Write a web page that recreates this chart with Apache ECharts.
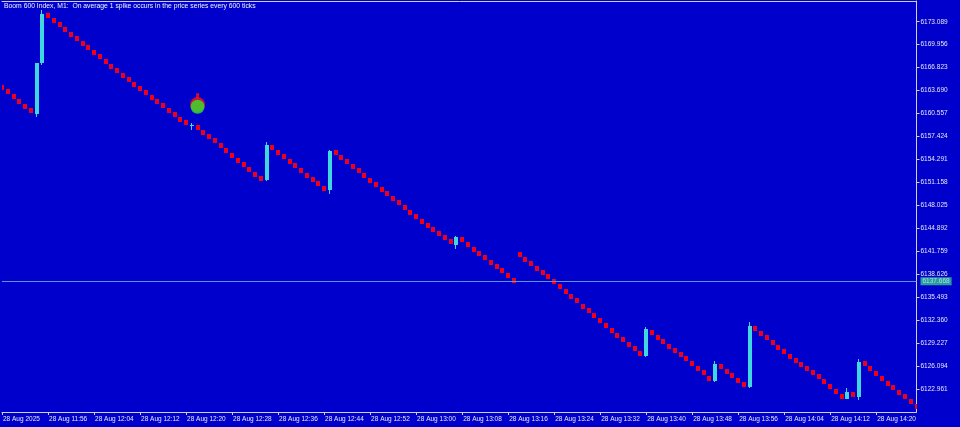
<!DOCTYPE html>
<html><head><meta charset="utf-8">
<script src="https://cdn.jsdelivr.net/npm/echarts@6/dist/echarts.min.js"></script>
<style>html,body{margin:0;padding:0;background:#0000cd;}#c{width:960px;height:427px;}</style>
</head><body><div id="c"></div>
<script>
const chartTitle = 'Boom 600 Index, M1:  On average 1 spike occurs in the price series every 600 ticks';
const tickLabels = ['28 Aug 2025','28 Aug 11:56','28 Aug 12:04','28 Aug 12:12','28 Aug 12:20','28 Aug 12:28','28 Aug 12:36','28 Aug 12:44','28 Aug 12:52','28 Aug 13:00','28 Aug 13:08','28 Aug 13:16','28 Aug 13:24','28 Aug 13:32','28 Aug 13:40','28 Aug 13:48','28 Aug 13:56','28 Aug 14:04','28 Aug 14:12','28 Aug 14:20'];
const opens = [
6164.49,6163.85,6163.17,6162.58,6161.90,6161.26,6160.59,6167.41,6174.22,6173.64,
6173.05,6172.37,6171.73,6171.08,6170.46,6169.86,6169.23,6168.63,6167.95,6167.36,
6166.72,6166.13,6165.52,6164.90,6164.32,6163.72,6163.13,6162.51,6161.93,6161.35,
6160.77,6160.13,6159.62,6158.95,6158.99,6158.31,6157.71,6157.16,6156.54,6155.90,
6155.21,6154.53,6153.98,6153.30,6152.62,6152.03,6151.49,6156.21,6155.58,6154.98,
6154.39,6153.78,6153.07,6152.48,6151.90,6151.30,6150.67,6150.12,6155.53,6154.90,
6154.30,6153.71,6153.07,6152.48,6151.80,6151.21,6150.59,6149.96,6149.34,6148.72,
6148.09,6147.46,6146.83,6146.21,6145.66,6145.07,6144.53,6143.98,6143.38,6142.62,
6143.71,6143.03,6142.34,6141.80,6141.20,6140.57,6139.97,6139.42,6138.84,6138.15,
6141.66,6140.98,6140.43,6139.75,6139.15,6138.61,6137.92,6137.24,6136.56,6135.97,
6135.33,6134.61,6133.96,6133.28,6132.60,6131.92,6131.24,6130.55,6130.06,6129.42,
6128.83,6128.15,6127.47,6130.96,6130.34,6129.73,6129.15,6128.60,6128.05,6127.47,
6126.79,6126.10,6125.50,6124.74,6123.96,6126.32,6125.64,6125.19,6124.51,6123.92,
6123.20,6131.56,6130.88,6130.28,6129.65,6128.97,6128.40,6127.78,6127.17,6126.62,
6126.08,6125.53,6124.99,6124.28,6123.69,6123.01,6122.32,6121.70,6122.53,6121.92,
6126.79,6126.10,6125.42,6124.74,6124.06,6123.46,6122.77,6122.23,6121.55,6120.96];
const closes = [
6163.87,6163.23,6162.54,6161.96,6161.27,6160.63,6167.50,6174.14,6173.60,6173.01,
6172.42,6171.74,6171.10,6170.46,6169.83,6169.23,6168.60,6168.00,6167.32,6166.73,
6166.09,6165.50,6164.89,6164.28,6163.69,6163.09,6162.50,6161.89,6161.30,6160.73,
6160.14,6159.50,6158.99,6159.02,6158.37,6157.68,6157.08,6156.54,6155.91,6155.27,
6154.59,6153.90,6153.36,6152.68,6151.99,6151.41,6156.26,6155.58,6154.95,6154.35,
6153.77,6153.15,6152.44,6151.86,6151.27,6150.67,6150.04,6155.49,6154.90,6154.27,
6153.67,6153.09,6152.44,6151.86,6151.17,6150.59,6149.96,6149.33,6148.72,6148.09,
6147.46,6146.84,6146.21,6145.58,6145.03,6144.45,6143.90,6143.36,6142.76,6143.67,
6143.08,6142.40,6141.72,6141.17,6140.57,6139.94,6139.34,6138.80,6138.21,6137.53,
6141.04,6140.35,6139.81,6139.12,6138.52,6137.98,6137.30,6136.61,6135.93,6135.35,
6134.70,6133.98,6133.34,6132.66,6131.97,6131.29,6130.61,6129.93,6129.44,6128.79,
6128.21,6127.53,6131.11,6130.34,6129.71,6129.11,6128.52,6127.98,6127.43,6126.84,
6126.16,6125.48,6124.88,6124.11,6126.34,6125.70,6125.01,6124.56,6123.88,6123.29,
6131.56,6130.94,6130.25,6129.65,6129.03,6128.34,6127.77,6127.16,6126.54,6126.00,
6125.45,6124.91,6124.36,6123.65,6123.06,6122.38,6121.70,6122.60,6121.90,6126.69,
6126.16,6125.48,6124.80,6124.11,6123.43,6122.83,6122.15,6121.60,6120.92,6120.33];
const wickHighs = {7:6174.62,33:6159.23,46:6156.63,57:6155.58,79:6143.78,112:6131.39,124:6126.83,130:6132.07,147:6123.06,149:6127.02};
const wickLows = {6:6160.13,7:6167.18,33:6158.31,46:6151.35,57:6149.58,79:6142.03,112:6127.29,124:6123.92,130:6123.10,147:6121.67,149:6121.47};
const priceLines = [6137.665];
const signalBar = [34];
const signalPrice = [6161.49];
const signalArrowPrice = [6162.99];
const axisBase = 6119.828, axisStep = 3.133, axisTop = 6175.916;

const cats = opens.map((_, i) => i);
const candleRows = opens.map((o, i) => {
  const c = closes[i];
  const lo = wickLows[i] !== undefined ? wickLows[i] : Math.min(o, c);
  const hi = wickHighs[i] !== undefined ? wickHighs[i] : Math.max(o, c);
  return [i, o - axisBase, c - axisBase, lo - axisBase, hi - axisBase];
});
const fontFam = 'Liberation Sans, Arial, sans-serif';
const txt = '#e6e6f0', frame = '#d0d0dc';
const upCol = '#40d6e2', downCol = '#f00018';

function renderCandle(params, api) {
  const i = api.value(0);
  const o = api.coord([i, api.value(1)]);
  const c = api.coord([i, api.value(2)]);
  const l = api.coord([i, api.value(3)]);
  const h = api.coord([i, api.value(4)]);
  const col = api.value(2) >= api.value(1) ? upCol : downCol;
  const cx = Math.round(o[0]);
  const top = Math.round(Math.min(o[1], c[1]));
  const hgt = Math.max(1, Math.round(Math.abs(o[1] - c[1])));
  const ht = Math.round(h[1]), lb = Math.round(l[1]);
  const children = [];
  if (ht < top || lb > top + hgt) {
    children.push({type: 'rect', shape: {x: cx - 1, y: ht, width: 1, height: Math.max(1, lb - ht)}, style: {fill: col}});
  }
  children.push({type: 'rect', shape: {x: cx - 2, y: top, width: 4, height: hgt}, style: {fill: col}});
  return {type: 'group', children};
}

const chart = echarts.init(document.getElementById('c'), null, {renderer: 'canvas'});
chart.setOption({
  backgroundColor: '#0000cd',
  animation: false,
  title: {text: chartTitle, left: 4, top: 3, padding: 0, textStyle: {color: '#f2f2f2', fontSize: 6.8, fontWeight: 'normal', fontFamily: fontFam}},
  grid: {left: 1.5, right: 43.5, top: 1, bottom: 15},
  xAxis: [{
    type: 'category', data: cats, boundaryGap: false,
    axisLine: {show: true, lineStyle: {color: frame, width: 1}},
    axisTick: {show: true, interval: 7, length: 3, lineStyle: {color: frame}},
    axisLabel: {interval: 7, formatter: (v, i) => tickLabels[i / 8] || '', color: txt, fontSize: 6.5, fontFamily: fontFam, align: 'left', margin: 4, padding: [0, 0, 0, 1]},
    splitLine: {show: false}
  }, {
    type: 'category', data: cats, boundaryGap: false, position: 'top',
    axisLine: {show: true, lineStyle: {color: frame, width: 1}},
    axisTick: {show: false}, axisLabel: {show: false}, splitLine: {show: false}
  }],
  yAxis: {
    type: 'value', position: 'right', min: 0, max: axisTop - axisBase, interval: axisStep,
    axisLine: {show: true, lineStyle: {color: frame, width: 1}},
    axisTick: {show: true, length: 3, lineStyle: {color: frame}},
    axisLabel: {showMinLabel: false, showMaxLabel: false, formatter: v => (v + axisBase).toFixed(3), margin: 4, color: txt, fontSize: 6.5, fontFamily: fontFam},
    splitLine: {show: false}
  },
  series: [{
    type: 'custom', data: candleRows, renderItem: renderCandle, clip: true,
    encode: {x: 0, y: [1, 2, 3, 4]}, z: 2
  }, {
    type: 'scatter', symbol: 'circle', symbolSize: 15, z: 3,
    itemStyle: {color: '#ff1010'},
    data: signalBar.map((b, i) => [b, signalPrice[i] + 0.3 - axisBase]),
    markLine: {
      silent: true, symbol: ['none', 'none'],
      lineStyle: {color: '#5a96e0', width: 1, type: 'solid'},
      label: {show: true, position: 'end', distance: 4, formatter: p => (p.value + axisBase).toFixed(3), backgroundColor: '#27a09c', color: '#b8d4ec', fontSize: 6.5, fontFamily: fontFam, padding: [1, 2, 0, 2]},
      data: priceLines.map(v => ({yAxis: v - axisBase}))
    }
  }, {
    type: 'scatter', symbol: 'circle', symbolSize: 14, z: 4,
    itemStyle: {color: '#2ee82e'},
    data: signalBar.map((b, i) => [b, signalPrice[i] - axisBase])
  }, {
    type: 'scatter', symbol: 'rect', symbolSize: [3, 5], z: 5,
    itemStyle: {color: '#ff1010'},
    data: signalBar.map((b, i) => [b, signalArrowPrice[i] - axisBase])
  }]
});
</script></body></html>
